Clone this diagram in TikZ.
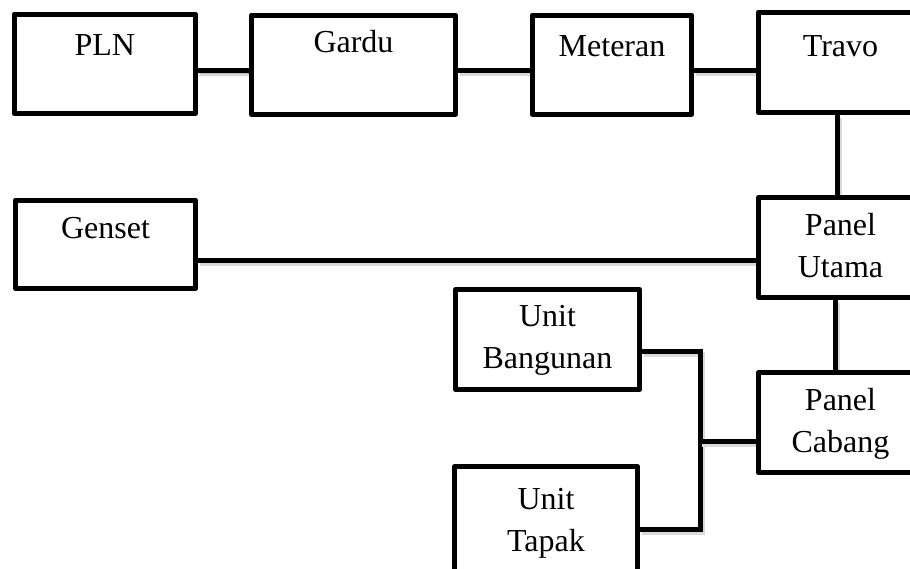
\documentclass[tikz,border=0pt]{standalone}
\usepackage{fontspec}
\setmainfont{Liberation Serif}
\usetikzlibrary{positioning, backgrounds}

\begin{document}
\begin{tikzpicture}[
	x=1pt, y=-1pt,
	box/.style={rectangle, draw, fill=white, line width=5pt, line join=round, inner sep=0pt},
	lbl/.style={inner sep=0pt, align=center, font=\fontsize{32}{42}\selectfont},
	wire/.style={line width=5pt, preaction={draw=black!15, line width=5pt, transform canvas={shift={(1.5pt,-3pt)}}}}
]
	\useasboundingbox (0,0) rectangle (910,568);
	\clip (0,0) rectangle (910,568);

	\node[box, minimum width=181.5pt, minimum height=99pt] (pln) at (104.75,63.75) {};
	\node[box, minimum width=204pt, minimum height=99.5pt] (gardu) at (353.5,64.75) {};
	\node[box, minimum width=159pt, minimum height=99.5pt] (meteran) at (612,64.75) {};
	\node[box, minimum width=164pt, minimum height=100.5pt] (travo) at (840.5,62.25) {};
	\node[box, minimum width=180pt, minimum height=88.5pt] (genset) at (105.5,244.25) {};
	\node[box, minimum width=164pt, minimum height=100pt] (utama) at (840.5,247.5) {};
	\node[box, minimum width=184pt, minimum height=100pt] (bangunan) at (547.5,339.5) {};
	\node[box, minimum width=164pt, minimum height=100pt] (cabang) at (840.5,422.5) {};
	\node[box, minimum width=183pt, minimum height=108.5pt] (tapak) at (546,520.75) {};

	\node[lbl, below=23pt of pln.north] (pln-t) {PLN};
	\node[lbl, below=17.5pt of gardu.north] (gardu-t) {Gardu};
	\node[lbl, below=22.5pt of meteran.north] (meteran-t) {Meteran};
	\node[lbl, below=25.5pt of travo.north] (travo-t) {Travo};
	\node[lbl, below=19.5pt of genset.north] (genset-t) {Genset};
	\node[lbl, below=18.5pt of utama.north] (utama-t) {Panel\\Utama};
	\node[lbl, below=18.5pt of bangunan.north] (bangunan-t) {Unit\\Bangunan};
	\node[lbl, below=18pt of cabang.north] (cabang-t) {Panel\\Cabang};
	\node[lbl, below=24pt of tapak.north] (tapak-t) {Unit\\Tapak};

	\coordinate (split) at (700.5,441.5);

	\begin{scope}[on background layer]
	\draw[wire] ([yshift=-6.75pt]pln.east) -- ([yshift=-6pt]gardu.west);
	\draw[wire] ([yshift=-6pt]gardu.east) -- ([yshift=-6pt]meteran.west);
	\draw[wire] ([yshift=-6pt]meteran.east) -- ([yshift=-8.5pt]travo.west);
	\draw[wire] ([xshift=-3pt]travo.south) -- ([xshift=-3pt]utama.north);
	\draw[wire] ([yshift=-15.75pt]genset.east) -- ([yshift=-12.5pt]utama.west);
	\draw[wire] ([xshift=-5pt]utama.south) -- ([xshift=-5pt]cabang.north);
	\draw[wire] ([yshift=-12pt]bangunan.east) -| (split) |- ([yshift=-8.75pt]tapak.east);
	\draw[wire] (split) -- (split -| cabang.west);
	\end{scope}
\end{tikzpicture}
\end{document}
